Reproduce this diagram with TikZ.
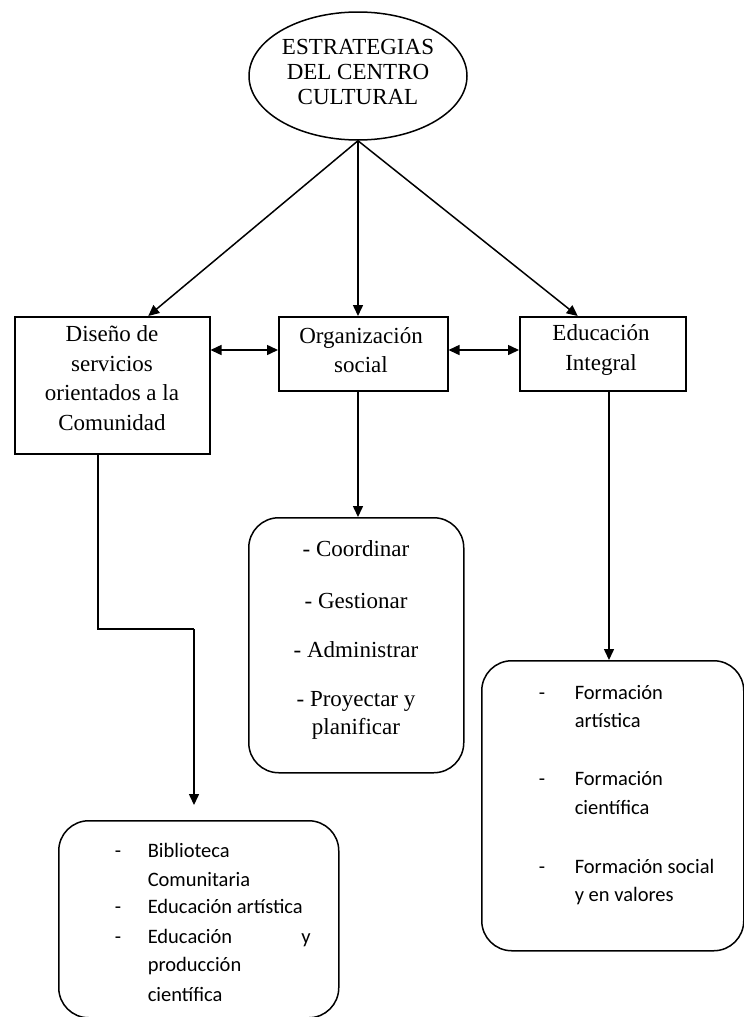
\documentclass[tikz,border=0pt]{standalone}
\usepackage{fontspec}
\setmainfont{Liberation Serif}
\newfontfamily\calib{Carlito}
\usetikzlibrary{shapes.geometric,arrows.meta}
\begin{document}
\begin{tikzpicture}[x=1pt,y=-1pt,
  line width=1.5pt,
  arr/.style={-{Triangle[length=11pt,width=10pt]}},
  darr/.style={{Triangle[length=11pt,width=10pt]}-{Triangle[length=11pt,width=10pt]}},
  sbox/.style={draw, rectangle, inner sep=0pt},
  stxt/.style={font=\fontsize{23}{29.5}\selectfont, align=center},
  rbox/.style={draw, rectangle, rounded corners=30pt, inner sep=0pt},
  ctxt/.style={font=\calib\fontsize{20.5}{24}\selectfont, anchor=base west, inner sep=0pt},
  ell/.style={draw, ellipse, inner sep=0pt, minimum width=218pt, minimum height=128pt}]
\useasboundingbox (0,0) rectangle (744,1017);
\fill[white] (0,0) rectangle (744,1017);

\node[ell] (top) at (358,76) {};
\node[font=\fontsize{23}{25}\selectfont, align=center] (tt) at (358,72) {ESTRATEGIAS\\DEL CENTRO\\CULTURAL};

\node[sbox, minimum width=195pt, minimum height=137pt, anchor=north west] (b1) at (14,316) {};
\node[stxt] (t1) at (112,378) {Diseño de\\servicios\\orientados a la\\Comunidad};
\node[sbox, minimum width=169pt, minimum height=74pt, anchor=north west] (b2) at (278,316) {};
\node[stxt] (t2) at (361,350) {Organización\\social};
\node[sbox, minimum width=166pt, minimum height=74pt, anchor=north west] (b3) at (519,316) {};
\node[stxt] (t3) at (601,350) {Educación\\Integral};

\draw[arr] (top.south) -- ([xshift=36pt]b1.north);
\draw[arr] (top.south) -- (top.south |- b2.north);
\draw[arr] (top.south) -- ([xshift=-25pt]b3.north);

\draw[darr] (b1.east |- t2) -- (b2.west |- t2);
\draw[darr] (b2.east |- t2) -- (b3.west |- t2);

% rounded boxes
\node[rbox, minimum width=215pt, minimum height=255pt, anchor=north west] (r2) at (248,517) {};
\node[rbox, minimum width=262pt, minimum height=290pt, anchor=north west] (r3) at (481,660) {};
\node[rbox, minimum width=280pt, minimum height=197pt, anchor=north west] (r1) at (58,820) {};

\coordinate (e1) at (98,629);
\coordinate (e2) at (194,629);
\coordinate (e3) at (194,805);
\draw (b1.south -| e1) -- (e1) -- (e2);
\draw[arr] (e2) -- (e3);
\draw[arr] (b2.south -| top.south) -- (r2.north -| top.south);
\draw[arr] (b3.south -| 609,0) -- (r3.north -| 609,0);

% texts in rounded box 2
\node[stxt] (c1) at (356,549) {- Coordinar};
\node[stxt] (c2) at (356,601) {- Gestionar};
\node[stxt] (c3) at (356,650) {- Administrar};
\node[stxt, font=\fontsize{23}{28}\selectfont] (c4) at (356,715) {- Proyectar y\\planificar};

% texts in rounded box 3
\node[ctxt] (d1) at (538,699) {-};
\node[ctxt] (f1) at (574,699) {Formación};
\node[ctxt] (f1b) at (574,727) {artística};
\node[ctxt] (d2) at (538,785) {-};
\node[ctxt] (f2) at (574,785) {Formación};
\node[ctxt] (f2b) at (574,814) {científica};
\node[ctxt] (d3) at (538,873) {-};
\node[ctxt] (f3) at (574,873) {Formación social};
\node[ctxt] (f3b) at (574,901) {y en valores};

% texts in rounded box 1
\node[ctxt] (g1) at (114,857) {-};
\node[ctxt] (h1) at (147,857) {Biblioteca};
\node[ctxt] (h1b) at (147,886) {Comunitaria};
\node[ctxt] (g2) at (114,913) {-};
\node[ctxt] (h2) at (147,913) {Educación artística};
\node[ctxt] (g3) at (114,943) {-};
\node[ctxt] (h3) at (147,943) {\hbox to 163pt{Educación\hfill y}};
\node[ctxt] (h3b) at (147,971) {producción};
\node[ctxt] (h3c) at (147,1001) {científica};
\end{tikzpicture}
\end{document}
